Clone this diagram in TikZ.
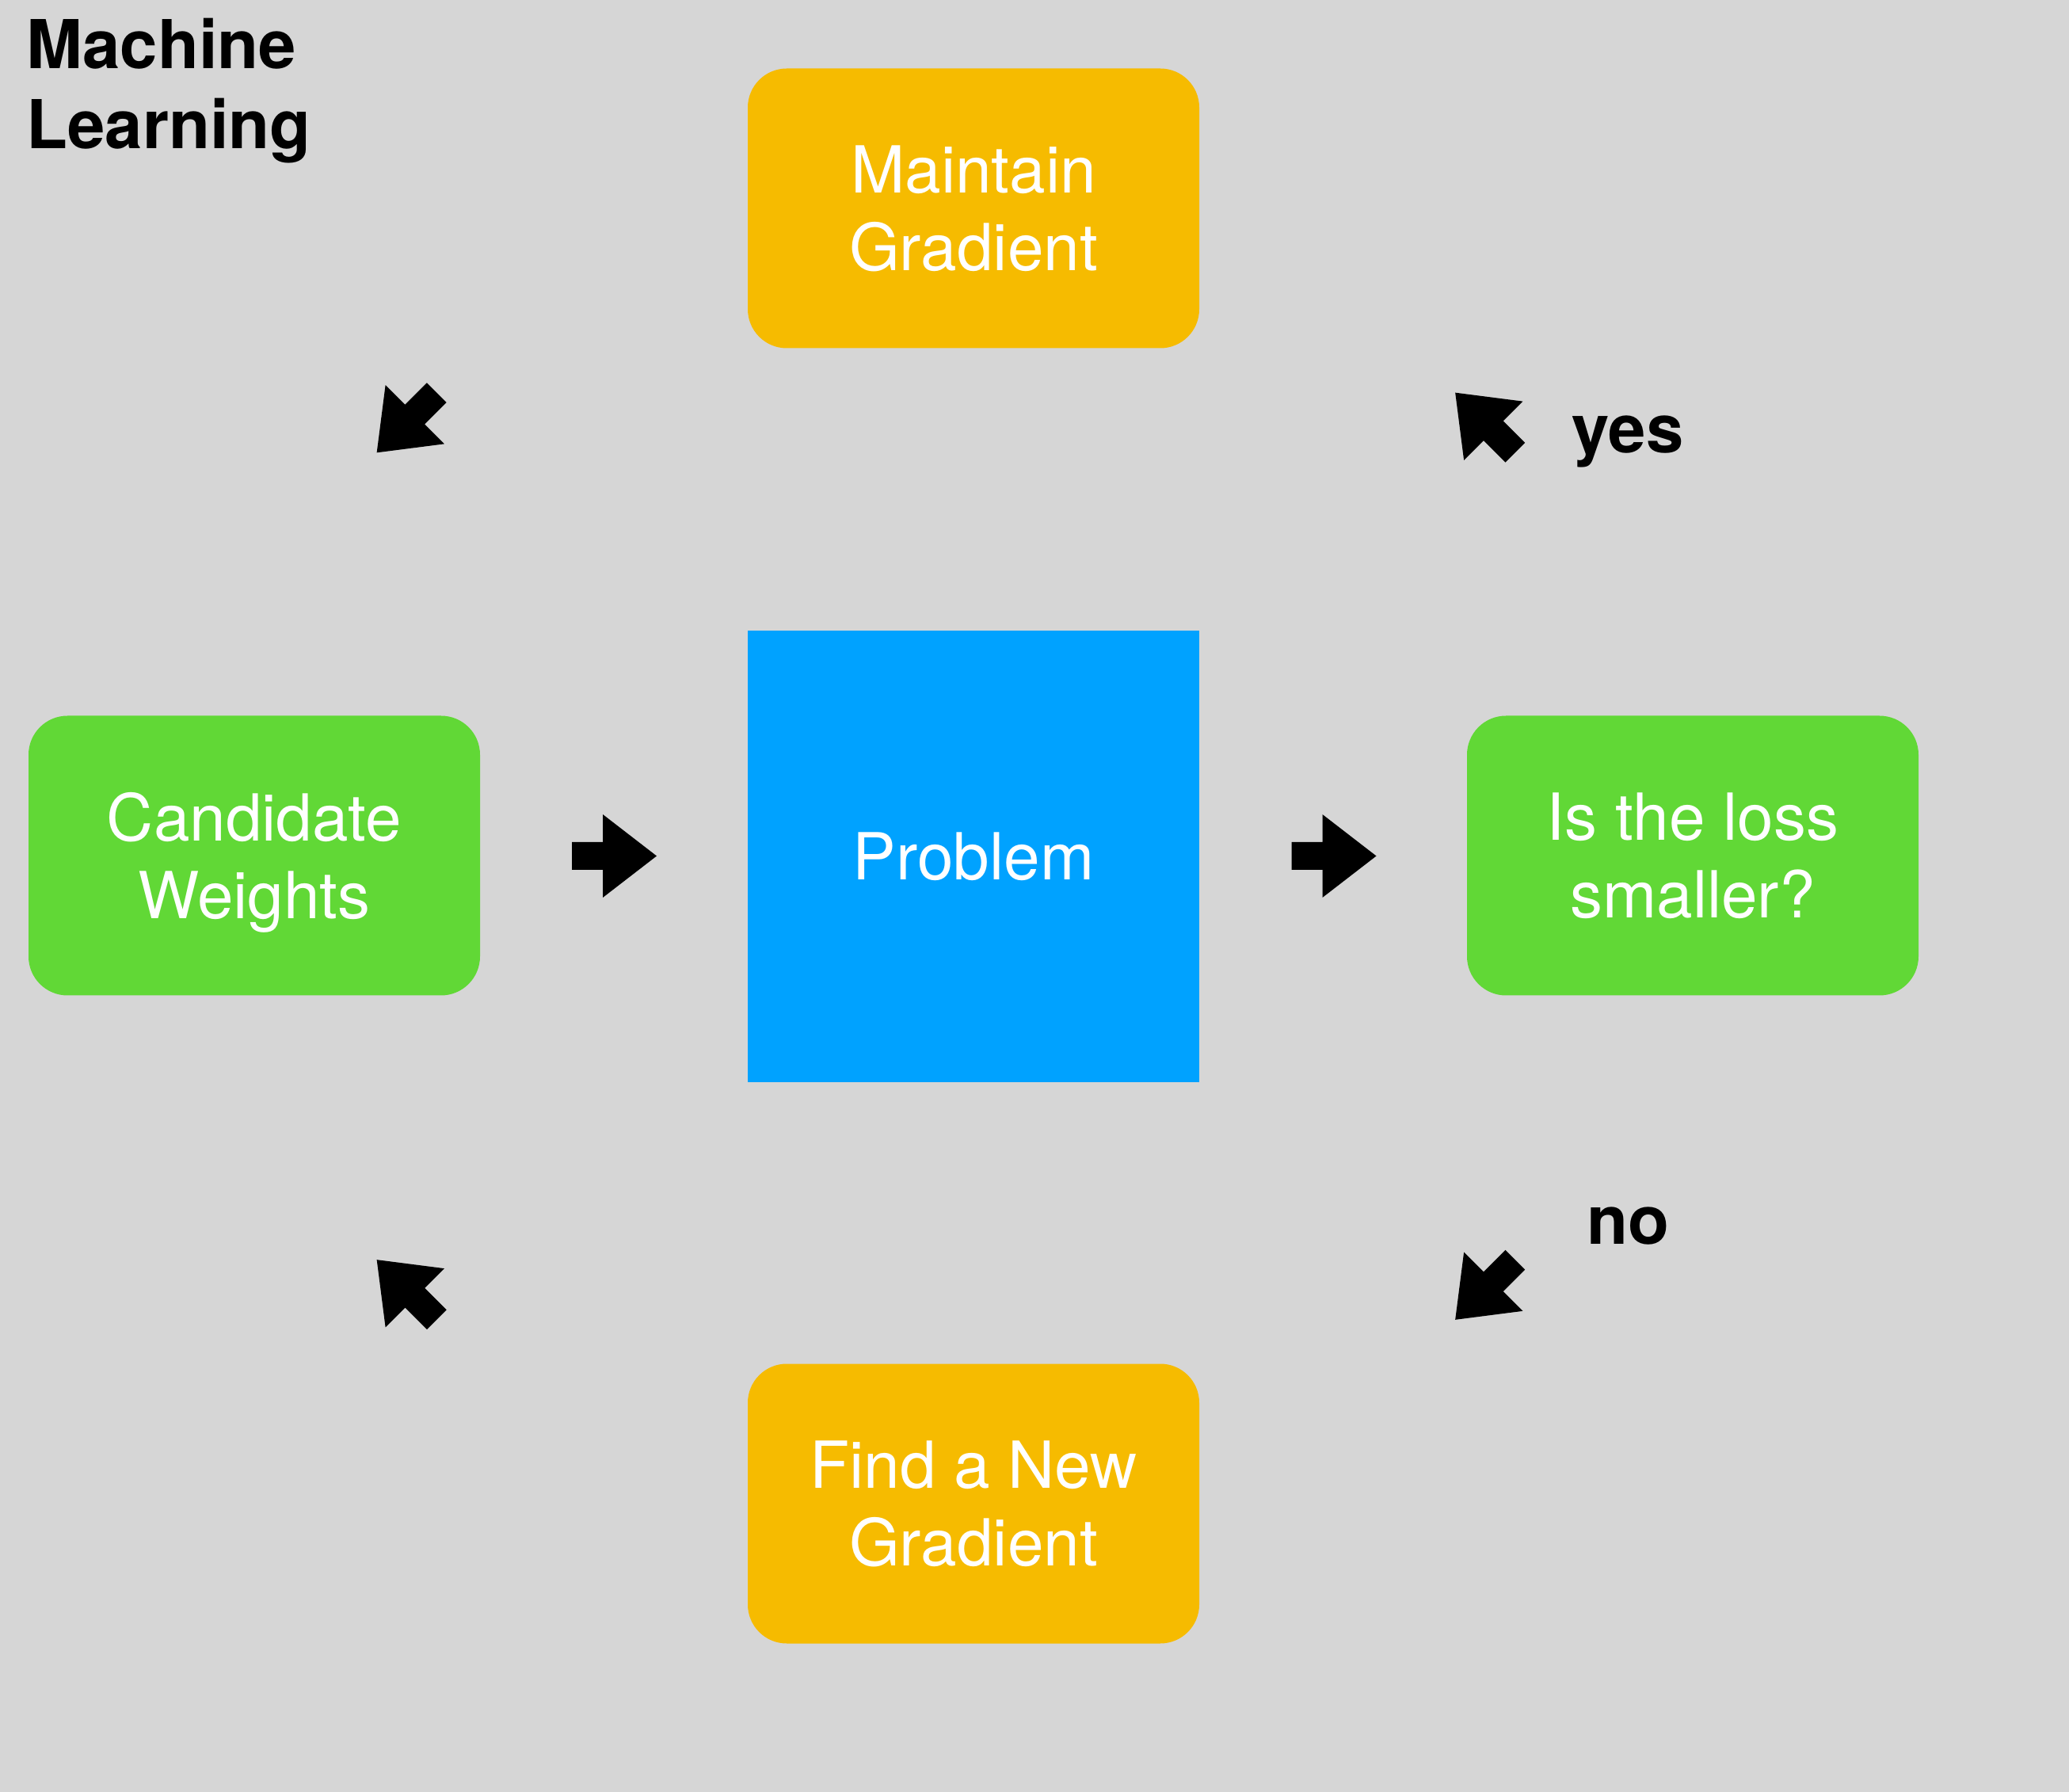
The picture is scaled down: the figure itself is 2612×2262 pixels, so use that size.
\documentclass[tikz,border=0pt]{standalone}
\usepackage{fontspec}
\setmainfont{TeX Gyre Heros}
\definecolor{bgc}{HTML}{D6D6D6}
\definecolor{orng}{HTML}{F6BB00}
\definecolor{blu}{HTML}{00A2FF}
\definecolor{grn}{HTML}{61D836}
\begin{document}
\begin{tikzpicture}[x=0.1mm,y=-0.1mm,
  boxtext/.style={text=white, align=center, inner sep=0pt,
    font=\fontsize{23.3pt}{27.9pt}\selectfont},
  roundbox/.style={boxtext, minimum width=57mm, minimum height=35.3mm, rounded corners=14pt},
  orangebox/.style={roundbox, fill=orng},
  greenbox/.style={roundbox, fill=grn},
  bluebox/.style={boxtext, fill=blu, minimum width=57mm, minimum height=57mm},
  blabel/.style={inner sep=0pt, font=\fontsize{24.2pt}{29pt}\selectfont\bfseries},
  blockarr/.pic={\fill[black] (-53.5,-17.5) -- (-14.5,-17.5) -- (-14.5,-52.5) -- (53.5,0)
     -- (-14.5,52.5) -- (-14.5,17.5) -- (-53.5,17.5) -- cycle;}
]
\fill[bgc] (0,0) rectangle (2612,2262);
\useasboundingbox (0,0) rectangle (2612,2262);

\node[blabel, anchor=north west, align=left] (title) at (33,22) {Machine\\Learning};

\node[orangebox] (maintain) at (1229,263) {Maintain\\Gradient};
\node[bluebox] (problem) at (1229,1081) {Problem};
\node[greenbox, text depth=0pt] (cand) at (321,1080) {Candidate\\Weights};
\node[greenbox] (loss) at (2137,1080) {Is the loss\\smaller?};
\node[orangebox] (find) at (1229,1898) {Find a New\\Gradient};

\pic (a1) at (775.5,1080.5) {blockarr};
\pic (a2) at (1684,1080.5) {blockarr};
\pic (a3) [rotate=135] at (1875,533.5) {blockarr};
\pic (a4) [rotate=225] at (513.5,533.5) {blockarr};
\pic (a5) [rotate=135] at (513.5,1628) {blockarr};
\pic (a6) [rotate=225] at (1875,1628) {blockarr};

\node[blabel, anchor=base] (yes) at (2055,572) {yes};
\node[blabel, anchor=base] (no) at (2055,1570) {no};
\end{tikzpicture}
\end{document}
